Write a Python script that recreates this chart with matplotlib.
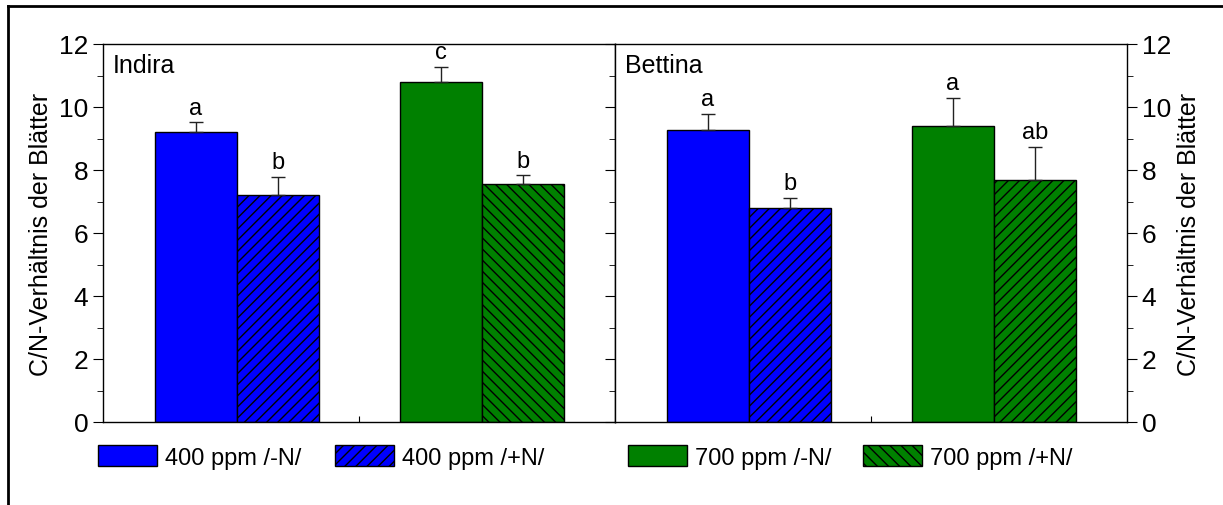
import numpy as np
import matplotlib
matplotlib.use("Agg")
import matplotlib.pyplot as plt
import matplotlib.patches as mpatches
from matplotlib.lines import Line2D
from matplotlib.ticker import MultipleLocator

plt.rcParams['font.family'] = ['Liberation Sans', 'DejaVu Sans']
plt.rcParams['hatch.linewidth'] = 1.0

# C/N-Verhältnis der Blätter, Mittelwerte und Standardfehler
sorten = ['Indira', 'Bettina']
behandlungen = ['400 ppm /-N/', '400 ppm /+N/', '700 ppm /-N/', '700 ppm /+N/']
werte = {
    'Indira': [9.22, 7.21, 10.79, 7.57],
    'Bettina': [9.27, 6.79, 9.40, 7.68],
}
fehler = {
    'Indira': [0.29, 0.56, 0.48, 0.26],
    'Bettina': [0.50, 0.32, 0.89, 1.05],
}
buchstaben = {
    'Indira': ['a', 'b', 'c', 'b'],
    'Bettina': ['a', 'b', 'a', 'ab'],
}

farben = ['#0000FF', '#0000FF', '#008000', '#008000']
schraffur = {
    'Indira': [None, '///', None, '\\\\\\'],
    'Bettina': [None, '///', None, '///'],
}
legende_schraffur = [None, '///', None, '\\\\\\']

W, H = 1223, 506
fig = plt.figure(figsize=(W / 100, H / 100), dpi=100)

# Rahmen um die ganze Abbildung
fig.add_artist(Line2D([8 / W, 8 / W], [0, 1 - 7 / H], transform=fig.transFigure,
                      color='black', lw=2))
fig.add_artist(Line2D([8 / W, 1], [1 - 7 / H, 1 - 7 / H], transform=fig.transFigure,
                      color='black', lw=2))

ax_bottom = (H - 423) / H
ax_height = 378 / H
ax_width = 512 / W
axes = [fig.add_axes([103 / W, ax_bottom, ax_width, ax_height]),
        fig.add_axes([615 / W, ax_bottom, ax_width, ax_height])]

breite = 1.0
positionen = [1.13, 2.13, 4.12, 5.12]

for i, (ax, sorte) in enumerate(zip(axes, sorten)):
    y = werte[sorte]
    err = fehler[sorte]
    for j in range(4):
        ax.bar(positionen[j], y[j], width=breite, color=farben[j],
               edgecolor='black', linewidth=1.0, hatch=schraffur[sorte][j], zorder=2)
    ax.errorbar(positionen, y, yerr=[np.zeros(4), err], fmt='none',
                ecolor='#222222', elinewidth=1.0, capsize=5, capthick=1.0, zorder=3)
    for j in range(4):
        ax.text(positionen[j], y[j] + err[j] + 0.12, buchstaben[sorte][j],
                ha='center', va='bottom', fontsize=17)

    ax.set_xlim(0, 6.24)
    ax.set_ylim(0, 12)
    ax.set_xticks([3.12])
    ax.set_xticklabels([])
    ax.tick_params(axis='x', direction='in', length=4)
    ax.yaxis.set_major_locator(MultipleLocator(2))
    ax.yaxis.set_minor_locator(MultipleLocator(1))
    ax.text(0.02, 0.975, sorte, transform=ax.transAxes, ha='left', va='top', fontsize=18)
    for s in ax.spines.values():
        s.set_linewidth(1.0)

ylabel = 'C/N-Verhältnis der Blätter'
axes[0].tick_params(axis='y', which='major', direction='out', length=7, labelsize=19)
axes[0].tick_params(axis='y', which='minor', direction='out', length=4)
axes[0].set_ylabel(ylabel, fontsize=18, labelpad=4)

axes[1].yaxis.tick_right()
axes[1].yaxis.set_label_position('right')
axes[1].tick_params(axis='y', which='major', direction='out', length=7, labelsize=19,
                    left=True, labelleft=False)
axes[1].tick_params(axis='y', which='minor', direction='out', length=4, left=True)
axes[1].set_ylabel(ylabel, fontsize=18, labelpad=4)

# Legende unten, Einträge einzeln gesetzt
legend_x = [98, 335, 628, 863]
for j in range(4):
    h = mpatches.Patch(facecolor=farben[j], edgecolor='black', linewidth=1.0,
                       hatch=legende_schraffur[j], label=behandlungen[j])
    leg = fig.legend(handles=[h], loc='center left',
                     bbox_to_anchor=(legend_x[j] / W, 1 - 458 / H),
                     frameon=False, fontsize=17, handlelength=2.5, handleheight=1.0,
                     handletextpad=0.35, borderpad=0, borderaxespad=0)

fig.savefig('out.png', dpi=100)
